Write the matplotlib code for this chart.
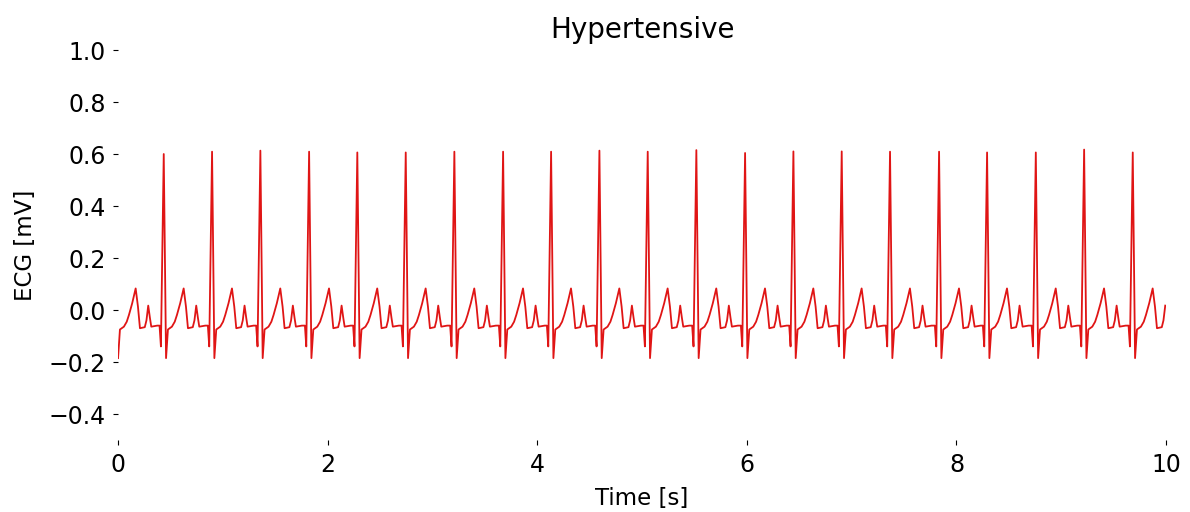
import matplotlib.pyplot as plt
import numpy as np

# R-peak times (s) (first one is just before t=0)
r_times = [-0.022, 0.436, 0.897, 1.358, 1.823, 2.283, 2.745, 3.209, 3.674,
           4.132, 4.593, 5.054, 5.518, 5.983, 6.444, 6.905, 7.366, 7.834,
           8.292, 8.757, 9.218, 9.682]

# R-peak heights (mV)
r_heights = [0.61, 0.600, 0.609, 0.613, 0.609, 0.606, 0.606, 0.609, 0.609,
             0.609, 0.613, 0.609, 0.615, 0.604, 0.610, 0.610, 0.609,
             0.609, 0.606, 0.606, 0.617, 0.606]

# one beat, relative to its R peak: time offset (s) and value (mV)
beat_dt = [-0.040, -0.027, 0.0, 0.022, 0.040, 0.078, 0.105, 0.126, 0.157,
           0.190, 0.212, 0.231, 0.277, 0.293, 0.310, 0.326, 0.339, 0.396]
beat_mv = [-0.060, -0.140, 0.0, -0.185, -0.075, -0.064, -0.045, -0.019,
           0.026, 0.083, 0.013, -0.070, -0.066, -0.040, 0.017, -0.030,
           -0.064, -0.060]
R_IDX = 2

t_all, v_all = [], []
for rt, rh in zip(r_times, r_heights):
    vals = list(beat_mv)
    vals[R_IDX] = rh
    t_all += [rt + d for d in beat_dt]
    v_all += vals

t_all = np.array(t_all)
v_all = np.array(v_all)
keep = (t_all >= -0.005) & (t_all <= 10.0)
t_all, v_all = t_all[keep], v_all[keep]
t_all[0] = 0.0

fig = plt.figure(figsize=(11.9, 5.12), dpi=100)
ax = fig.add_axes([0.0992, 0.1406, 0.8807, 0.7617])

ax.plot(t_all, v_all, color='#e01515', linewidth=1.3)

ax.set_xlim(0, 10)
ax.set_ylim(-0.5, 1.0)
ax.set_xticks(np.arange(0, 11, 2))
ax.set_yticks(np.arange(-0.4, 1.01, 0.2))
ax.tick_params(labelsize=17, pad=5.5)
for s in ax.spines.values():
    s.set_visible(False)

ax.set_title('Hypertensive', fontsize=20, pad=9)
ax.set_xlabel('Time [s]', fontsize=16.5, labelpad=7.5)
ax.set_ylabel('ECG [mV]', fontsize=16.5, labelpad=8)

fig.savefig('out.png')
